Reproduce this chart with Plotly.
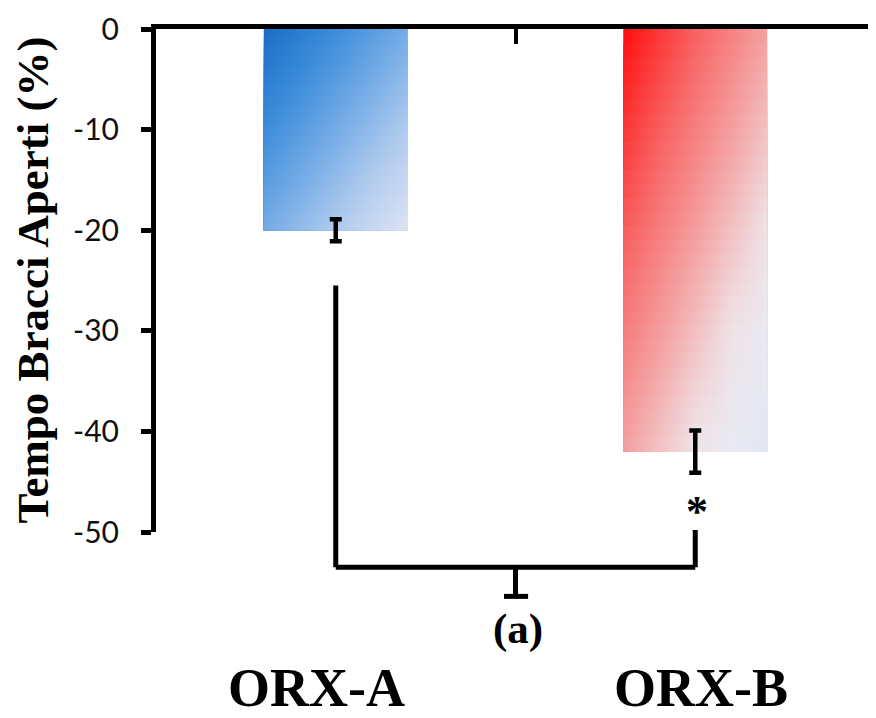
import plotly.graph_objects as go

# ---- data ----
categories = ["ORX-A", "ORX-B"]
values = [-20.0, -42.0]
errors = [1.1, 2.1]
y_ticks = [0, -10, -20, -30, -40, -50]
y_title = "Tempo Bracci Aperti (%)"
sig_label = "*"
panel_label = "(a)"

# ---- style ----
Y_MIN, Y_MAX = -50, 0
BAR_W = 0.4
ramps = [
    [(0.0, "#1a6fc4"), (0.25, "#3c8ddb"), (0.5, "#76ace6"), (0.75, "#b3cdee"), (1.0, "#dfe3f4")],
    [(0.0, "#ff1010"), (0.25, "#f86262"), (0.5, "#f4a2a2"), (0.72, "#efe2e6"), (0.86, "#e9eaf2"), (1.0, "#e2e7f4")],
]
label_xshift = [-19, 6]
N_STRIPS = 30


def hex2rgb(h):
    h = h.lstrip("#")
    return tuple(int(h[i:i + 2], 16) for i in (0, 2, 4))


def ramp_color(ramp, u):
    u = min(max(u, 0.0), 1.0)
    for (u0, c0), (u1, c1) in zip(ramp[:-1], ramp[1:]):
        if u <= u1:
            f = 0 if u1 == u0 else (u - u0) / (u1 - u0)
            a, b = hex2rgb(c0), hex2rgb(c1)
            return "rgb(%d,%d,%d)" % tuple(round(a[i] + (b[i] - a[i]) * f) for i in range(3))
    return "rgb(%d,%d,%d)" % hex2rgb(ramp[-1][1])


def to_paper(v):
    return (v - Y_MIN) / (Y_MAX - Y_MIN)


xs = list(range(len(categories)))
fig = go.Figure()

# base bars (data)
fig.add_trace(go.Bar(
    x=xs, y=values, width=BAR_W,
    marker=dict(color=[ramp_color(r, 0.5) for r in ramps], line=dict(width=0)),
    hovertext=categories, showlegend=False,
))

# diagonal gradient overlay built from the bar values
for i, (c, v) in enumerate(zip(xs, values)):
    for k in range(N_STRIPS):
        t = k / N_STRIPS
        ytop = v * t
        stops = [0, 0.25, 0.5, 0.75, 1.0]
        cs = [[s, ramp_color(ramps[i], (s + t) / 2)] for s in stops]
        fig.add_trace(go.Scatter(
            x=[c - BAR_W / 2, c + BAR_W / 2, c + BAR_W / 2, c - BAR_W / 2, c - BAR_W / 2],
            y=[ytop, ytop, v, v, ytop],
            mode="lines", line=dict(width=0), fill="toself",
            fillgradient=dict(type="horizontal", colorscale=cs),
            hoverinfo="skip", showlegend=False,
        ))

# error bars
fig.add_trace(go.Scatter(
    x=xs, y=values, mode="markers",
    marker=dict(size=1, color="rgba(0,0,0,0)"),
    error_y=dict(type="data", array=errors, visible=True, color="black", thickness=4.5, width=6),
    hoverinfo="skip", showlegend=False,
))

# significance bracket
LW = 5
br_top_left, br_low, br_top_right, br_tick = -25.5, -53.5, -49.8, -56.4
shapes = [
    dict(type="line", xref="x", yref="paper", x0=0, x1=0, y0=to_paper(br_top_left), y1=to_paper(br_low)),
    dict(type="line", xref="x", yref="paper", x0=0, x1=1, y0=to_paper(br_low), y1=to_paper(br_low)),
    dict(type="line", xref="x", yref="paper", x0=1, x1=1, y0=to_paper(br_top_right), y1=to_paper(br_low)),
    dict(type="line", xref="x", yref="paper", x0=0.5, x1=0.5, y0=to_paper(br_low), y1=to_paper(br_tick)),
    dict(type="line", xref="x", yref="paper", x0=0.468, x1=0.535, y0=to_paper(br_tick), y1=to_paper(br_tick)),
]
for s in shapes:
    s["line"] = dict(color="black", width=LW)
fig.update_layout(shapes=shapes)

annotations = [
    dict(x=0, y=0.50, xref="paper", yref="paper", text="<b>%s</b>" % y_title, showarrow=False,
         textangle=-90, xanchor="center", yanchor="middle", xshift=-124,
         font=dict(family="Liberation Serif", size=45, color="black")),
    dict(x=1, y=-48.0, xref="x", yref="y", text="<b>%s</b>" % sig_label, showarrow=False,
         xanchor="center", yanchor="middle",
         font=dict(family="Liberation Serif", size=44, color="black"), xshift=2),
    dict(x=0.5, y=-0.193, xref="x", yref="paper", text="<b>%s</b>" % panel_label, showarrow=False,
         xanchor="center", yanchor="middle",
         font=dict(family="Liberation Serif", size=43, color="black"), xshift=2),
]
for c, lab, dx in zip(xs, categories, label_xshift):
    annotations.append(dict(x=c, y=-0.310, xref="x", yref="paper", text="<b>%s</b>" % lab,
                            showarrow=False, xshift=dx, xanchor="center", yanchor="middle",
                            font=dict(family="Liberation Serif", size=54, color="black")))
fig.update_layout(annotations=annotations)

# page has an 8px body margin: figure is 868x710 and margins are shifted accordingly
fig.update_layout(
    width=868, height=710,
    margin=dict(l=147.5, r=1, t=15, b=186),
    paper_bgcolor="white", plot_bgcolor="white",
    barmode="overlay",
    xaxis=dict(
        range=[-0.5, 1.5], side="top", showline=True, linewidth=5, linecolor="black",
        tickvals=[0.5, 1.5], ticks="inside", ticklen=15, tickwidth=4, tickcolor="black",
        showticklabels=False, showgrid=False, zeroline=False, fixedrange=True,
    ),
    yaxis=dict(
        range=[Y_MIN, Y_MAX], showline=True, linewidth=5, linecolor="black",
        tickvals=y_ticks, ticktext=[str(v) for v in y_ticks],
        ticks="outside", ticklen=10, tickwidth=5, tickcolor="black",
        ticklabelstandoff=16, ticklabeloverflow="allow",
        tickfont=dict(family="Lato", size=30, color="#111"),
        showgrid=False, zeroline=False,
    ),
)

fig.write_html("out.html")
